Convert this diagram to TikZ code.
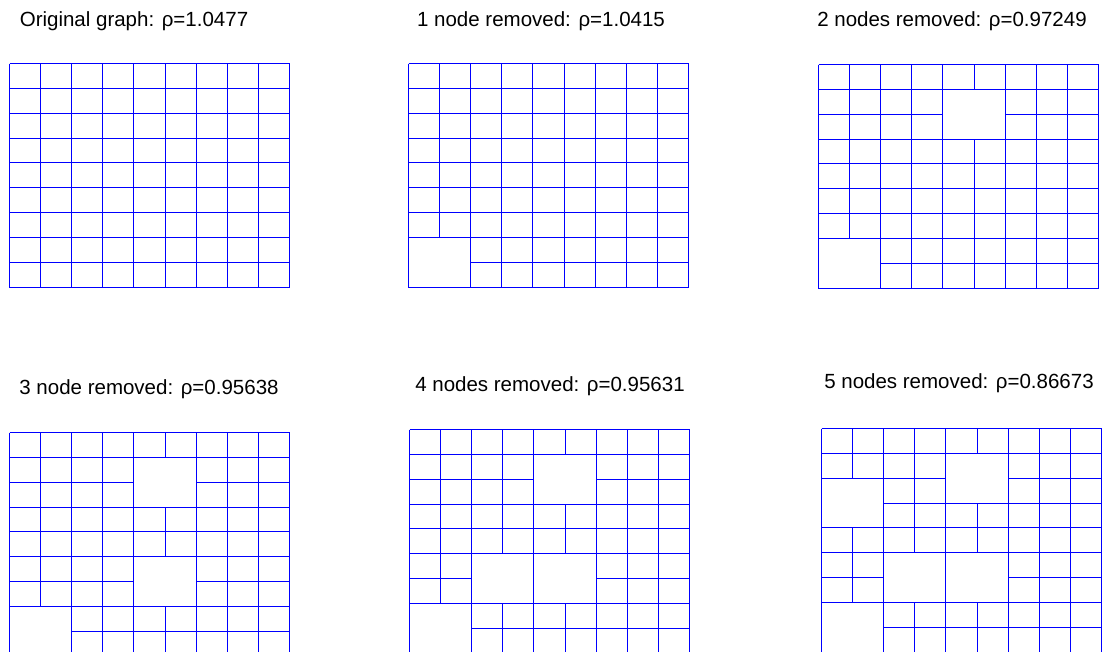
\documentclass[tikz,border=0pt]{standalone}
\usepackage{fontspec}
\setmainfont{Liberation Sans}
\usetikzlibrary{positioning}

\begin{document}
\begin{tikzpicture}[
            x=1pt, y=-1pt,
            title/.style={
                anchor=base,
                inner sep=0pt,
                font=\fontsize{20.5}{24}\selectfont
            },
            gridline/.style={draw=blue, line width=1.5pt},
            merged/.style={gridline, fill=white}
        ]
            \useasboundingbox (0,0) rectangle (1108,651);
            \clip (0,0) rectangle (1108,651);

            % titles
            \node[title] (orig) at (134,26) {Original graph: ρ=1.0477};
            \node[title] (remone) at (541,26) {1 node removed: ρ=1.0415};
            \node[title] (remtwo) at (952,26) {2 nodes removed: ρ=0.97249};
            \node[title] (remthree) at (149,394) {3 node removed: ρ=0.95638};
            \node[title] (remfour) at (550,391) {4 nodes removed: ρ=0.95631};
            \node[title] (remfive) at (959,388) {5 nodes removed: ρ=0.86673};

            % 9x9 grids, lines snapped to pixels
            \foreach \px/\py in {9/63, 408/63, 818/64, 9/432, 409/429, 821/428} {
                \foreach \i in {0,...,9} {
                    \pgfmathsetmacro\gx{\px+round(31.1*\i)+0.5}
                    \pgfmathsetmacro\gy{\py+round(24.85*\i)+0.5}
                    \draw[gridline] (\gx,\py+0.5) -- (\gx,\py+224.5);
                    \draw[gridline] (\px+0.5,\gy) -- (\px+280.5,\gy);
                }
            }

            % removed nodes: 2x2 cells merged (panel origin / column / row)
            \foreach \px/\py/\c/\r in {
                408/63/0/7,
                818/64/0/7, 818/64/4/1,
                9/432/0/7, 9/432/4/1, 9/432/4/5,
                409/429/0/7, 409/429/4/1, 409/429/2/5, 409/429/4/5,
                821/428/0/7, 821/428/4/1, 821/428/0/2, 821/428/2/5, 821/428/4/5} {
                \pgfmathsetmacro\ax{\px+round(31.1*\c)+0.5}
                \pgfmathsetmacro\ay{\py+round(24.85*\r)+0.5}
                \pgfmathsetmacro\bx{\px+round(31.1*(\c+2))+0.5}
                \pgfmathsetmacro\by{\py+round(24.85*(\r+2))+0.5}
                \filldraw[merged] (\ax,\ay) rectangle (\bx,\by);
            }
        \end{tikzpicture}
\end{document}
